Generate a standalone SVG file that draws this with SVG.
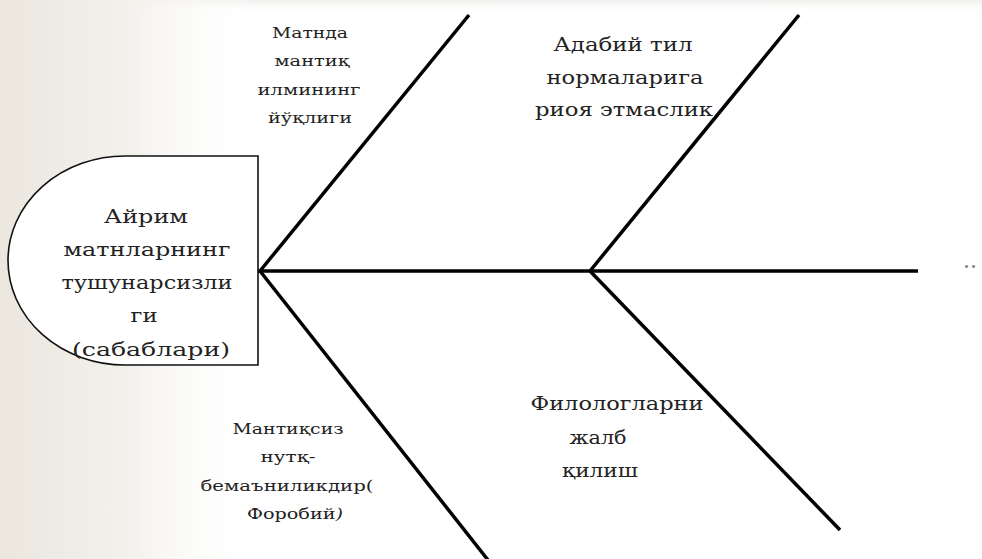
<svg xmlns="http://www.w3.org/2000/svg" width="982" height="559" viewBox="0 0 982 559">
  <defs>
    <linearGradient id="bgfade" x1="0" y1="0" x2="1" y2="0">
      <stop offset="0" stop-color="#ebe7df"/>
      <stop offset="0.5" stop-color="#f3f1ec"/>
      <stop offset="1" stop-color="#ffffff" stop-opacity="0"/>
    </linearGradient>
    <linearGradient id="topfade" x1="0" y1="0" x2="0" y2="1">
      <stop offset="0" stop-color="#f1f0ee"/>
      <stop offset="1" stop-color="#ffffff" stop-opacity="0"/>
    </linearGradient>
    <style>
      .bone { stroke: #000; stroke-width: 3.5; fill: none; stroke-linecap: butt; }
      .head { fill: #fff; stroke: #111; stroke-width: 1.6; }
      .t { font-family: "DejaVu Serif", "Liberation Serif", serif; fill: #222; text-anchor: middle; }
    </style>
  </defs>
  <rect x="0" y="0" width="982" height="559" fill="#fff"/>
  <rect x="0" y="0" width="982" height="14" fill="url(#topfade)"/>
  <rect x="0" y="0" width="260" height="559" fill="url(#bgfade)"/>

  <g id="connectors">
    <line class="bone" x1="258" y1="271" x2="918" y2="271"/>
    <line class="bone" x1="260" y1="271" x2="469" y2="15"/>
    <line class="bone" x1="260" y1="271" x2="488" y2="560"/>
    <line class="bone" x1="590" y1="271" x2="799" y2="15"/>
    <line class="bone" x1="590" y1="271" x2="840" y2="530"/>
  </g>

  <g id="head">
    <path class="head" d="M 258 156 L 125 156 A 117 104.5 0 0 0 125 365 L 258 365 Z"/>
    <text class="t" font-size="19" x="146" y="223" textLength="84" lengthAdjust="spacingAndGlyphs">Айрим</text>
    <text class="t" font-size="19" x="147" y="256" textLength="167" lengthAdjust="spacingAndGlyphs">матнларнинг</text>
    <text class="t" font-size="19" x="147" y="289" textLength="171" lengthAdjust="spacingAndGlyphs">тушунарсизли</text>
    <text class="t" font-size="19" x="144" y="322" textLength="27" lengthAdjust="spacingAndGlyphs">ги</text>
    <text class="t" font-size="19" x="151" y="356" textLength="158" lengthAdjust="spacingAndGlyphs">(сабаблари)</text>
  </g>

  <g id="cause-logic">
    <text class="t" font-size="15" x="310" y="38" textLength="76" lengthAdjust="spacingAndGlyphs">Матнда</text>
    <text class="t" font-size="15" x="312" y="66" textLength="75" lengthAdjust="spacingAndGlyphs">мантиқ</text>
    <text class="t" font-size="15" x="309" y="95" textLength="103" lengthAdjust="spacingAndGlyphs">илмининг</text>
    <text class="t" font-size="15" x="310" y="123" textLength="84" lengthAdjust="spacingAndGlyphs">йўқлиги</text>
  </g>

  <g id="cause-norms">
    <text class="t" font-size="19" x="623" y="51" textLength="139" lengthAdjust="spacingAndGlyphs">Адабий тил</text>
    <text class="t" font-size="19" x="625" y="84" textLength="157" lengthAdjust="spacingAndGlyphs">нормаларига</text>
    <text class="t" font-size="19" x="624" y="116" textLength="178" lengthAdjust="spacingAndGlyphs">риоя этмаслик</text>
  </g>

  <g id="cause-farobi">
    <text class="t" font-size="15" x="288" y="434" textLength="111" lengthAdjust="spacingAndGlyphs">Мантиқсиз</text>
    <text class="t" font-size="15" x="288" y="462" textLength="55" lengthAdjust="spacingAndGlyphs">нутқ-</text>
    <text class="t" font-size="15" x="287" y="491" textLength="173" lengthAdjust="spacingAndGlyphs">бемаъниликдир(</text>
    <text class="t" font-size="15" x="295" y="519" textLength="96" lengthAdjust="spacingAndGlyphs">Форобий<tspan font-style="italic">)</tspan></text>
  </g>

  <g id="cause-philologists">
    <text class="t" font-size="18" x="617" y="410" textLength="173" lengthAdjust="spacingAndGlyphs">Филологларни</text>
    <text class="t" font-size="18" x="598" y="444" textLength="57" lengthAdjust="spacingAndGlyphs">жалб</text>
    <text class="t" font-size="18" x="600" y="477" textLength="76" lengthAdjust="spacingAndGlyphs">қилиш</text>
  </g>

  <g id="ellipsis">
    <text class="t" font-size="22" x="970" y="268" style="fill:#777">..</text>
  </g>
</svg>
